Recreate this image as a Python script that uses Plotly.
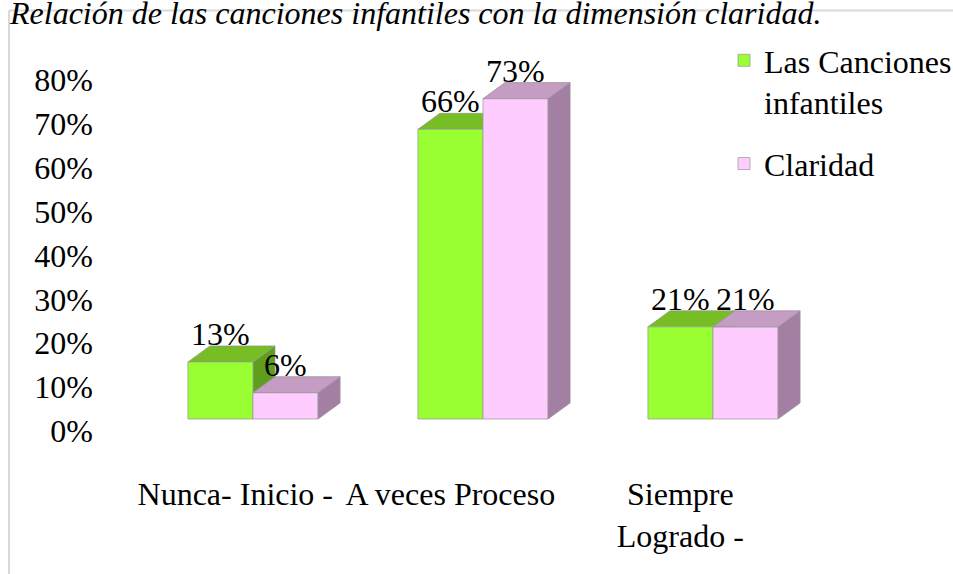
import plotly.graph_objects as go

# ---------------- data ----------------
CATEGORIES = ["Nunca- Inicio -", "A veces Proceso", "Siempre<br>Logrado -"]
SERIES_NAMES = ["Las Canciones<br>infantiles", "Claridad"]
CANCIONES = [0.13, 0.66, 0.21]
CLARIDAD = [0.06, 0.73, 0.21]
Y_TICKS = [0.0, 0.1, 0.2, 0.3, 0.4, 0.5, 0.6, 0.7, 0.8]
Y_TICK_LABELS = ["0%", "10%", "20%", "30%", "40%", "50%", "60%", "70%", "80%"]
TITLE = "Relación de las canciones infantiles con la dimensión claridad."

# ---------------- style ----------------
W, H = 953, 574
PXU = 438.9                 # pixels per 1.0 of value
BASE_PX = 419               # pixel row of the value 0 (front of bars)
YMAX = 0.9
YMIN = -18 / PXU
ML, MR = 138, 125
MT = round(BASE_PX - YMAX * PXU)
MB = round(H - (BASE_PX - YMIN * PXU))
FONT = "Times New Roman, Liberation Serif, serif"
FS = 32
BW = 0.283                  # bar width (category units)
DX, DY = 0.0957, 0.0365     # 3-D depth offset (x units, y units)
LABEL_DROP = 0.0273         # y tick labels sit a little lower (3-D wall)
XLABEL_SHIFTS = [-0.077, -0.142, -0.142]   # category labels sit a little left
EDGE = "rgba(150,150,150,0.7)"

SERIES = [
    dict(name=SERIES_NAMES[0], values=CANCIONES, offset=-BW,
         front="#99FF33", top="#77BD24", side="#5E9E1C", layer="below"),
    dict(name=SERIES_NAMES[1], values=CLARIDAD, offset=0.0,
         front="#FFCCFF", top="#C49CC4", side="#A380A3", layer="above"),
]

idx = list(range(len(CATEGORIES)))
fig = go.Figure()
shapes = []
annotations = []

for s in SERIES:
    fig.add_trace(go.Bar(
        x=idx, y=s["values"], name=s["name"], width=BW, offset=s["offset"],
        marker=dict(color=s["front"], line=dict(color=EDGE, width=1)),
        legendgroup=s["name"], hoverinfo="skip",
    ))
    for i, v in zip(idx, s["values"]):
        xl = i + s["offset"]
        xr = xl + BW
        # side face
        shapes.append(dict(
            type="path", xref="x", yref="y", layer=s["layer"],
            path=f"M{xr},0 L{xr},{v} L{xr+DX},{v+DY} L{xr+DX},{DY} Z",
            fillcolor=s["side"], line=dict(color=EDGE, width=1)))
        # top face
        shapes.append(dict(
            type="path", xref="x", yref="y", layer=s["layer"],
            path=f"M{xl},{v} L{xr},{v} L{xr+DX},{v+DY} L{xl+DX},{v+DY} Z",
            fillcolor=s["top"], line=dict(color=EDGE, width=1)))
        annotations.append(dict(
            x=(xl + xr) / 2, y=v, xref="x", yref="y", text=f"{round(v*100)}%",
            showarrow=False, yanchor="middle", yshift=28,
            font=dict(family=FONT, size=FS, color="black")))

# chart-area border (top and left edges)
pw, ph = W - ML - MR, H - MT - MB
def px_x(p):
    return (p - ML) / pw
def px_y(p):
    return 1 - (p - MT) / ph
shapes.append(dict(type="line", xref="paper", yref="paper", layer="below",
                   x0=px_x(9), x1=px_x(W + 5), y0=px_y(10.5), y1=px_y(10.5),
                   line=dict(color="#D9D9D9", width=2)))
shapes.append(dict(type="line", xref="paper", yref="paper", layer="below",
                   x0=px_x(9), x1=px_x(9), y0=px_y(10.5), y1=px_y(H + 5),
                   line=dict(color="#D9D9D9", width=2)))

fig.update_layout(
    width=W, height=H,
    margin=dict(l=ML, r=MR, t=MT, b=MB, autoexpand=False),
    paper_bgcolor="white", plot_bgcolor="rgba(0,0,0,0)",
    font=dict(family=FONT, size=FS, color="black"),
    barmode="overlay",
    title=dict(text=f"<i>{TITLE}</i>", x=10 / W, xanchor="left", xref="container",
               y=1 - 13 / H, yanchor="middle", yref="container",
               font=dict(family=FONT, size=32, color="black")),
    xaxis=dict(range=[-0.5, 2.5], tickvals=[i + d for i, d in zip(idx, XLABEL_SHIFTS)],
               ticktext=CATEGORIES, showgrid=False, zeroline=False,
               showline=False, ticks="", ticklabelstandoff=35, automargin=False,
               tickfont=dict(family=FONT, size=FS)),
    yaxis=dict(range=[YMIN, YMAX], tickvals=[t - LABEL_DROP for t in Y_TICKS],
               ticktext=Y_TICK_LABELS, showgrid=False, zeroline=False,
               showline=False, ticks="", ticklabelstandoff=44, automargin=False,
               tickfont=dict(family=FONT, size=FS)),
    legend=dict(x=px_x(724), y=px_y(33), xanchor="left", yanchor="top",
                valign="top", tracegroupgap=17, bgcolor="rgba(0,0,0,0)",
                font=dict(family=FONT, size=FS)),
    shapes=shapes, annotations=annotations,
    showlegend=True,
)

fig.write_html("out.html", config={"displayModeBar": False},
               post_script="document.body.style.margin='0';")
